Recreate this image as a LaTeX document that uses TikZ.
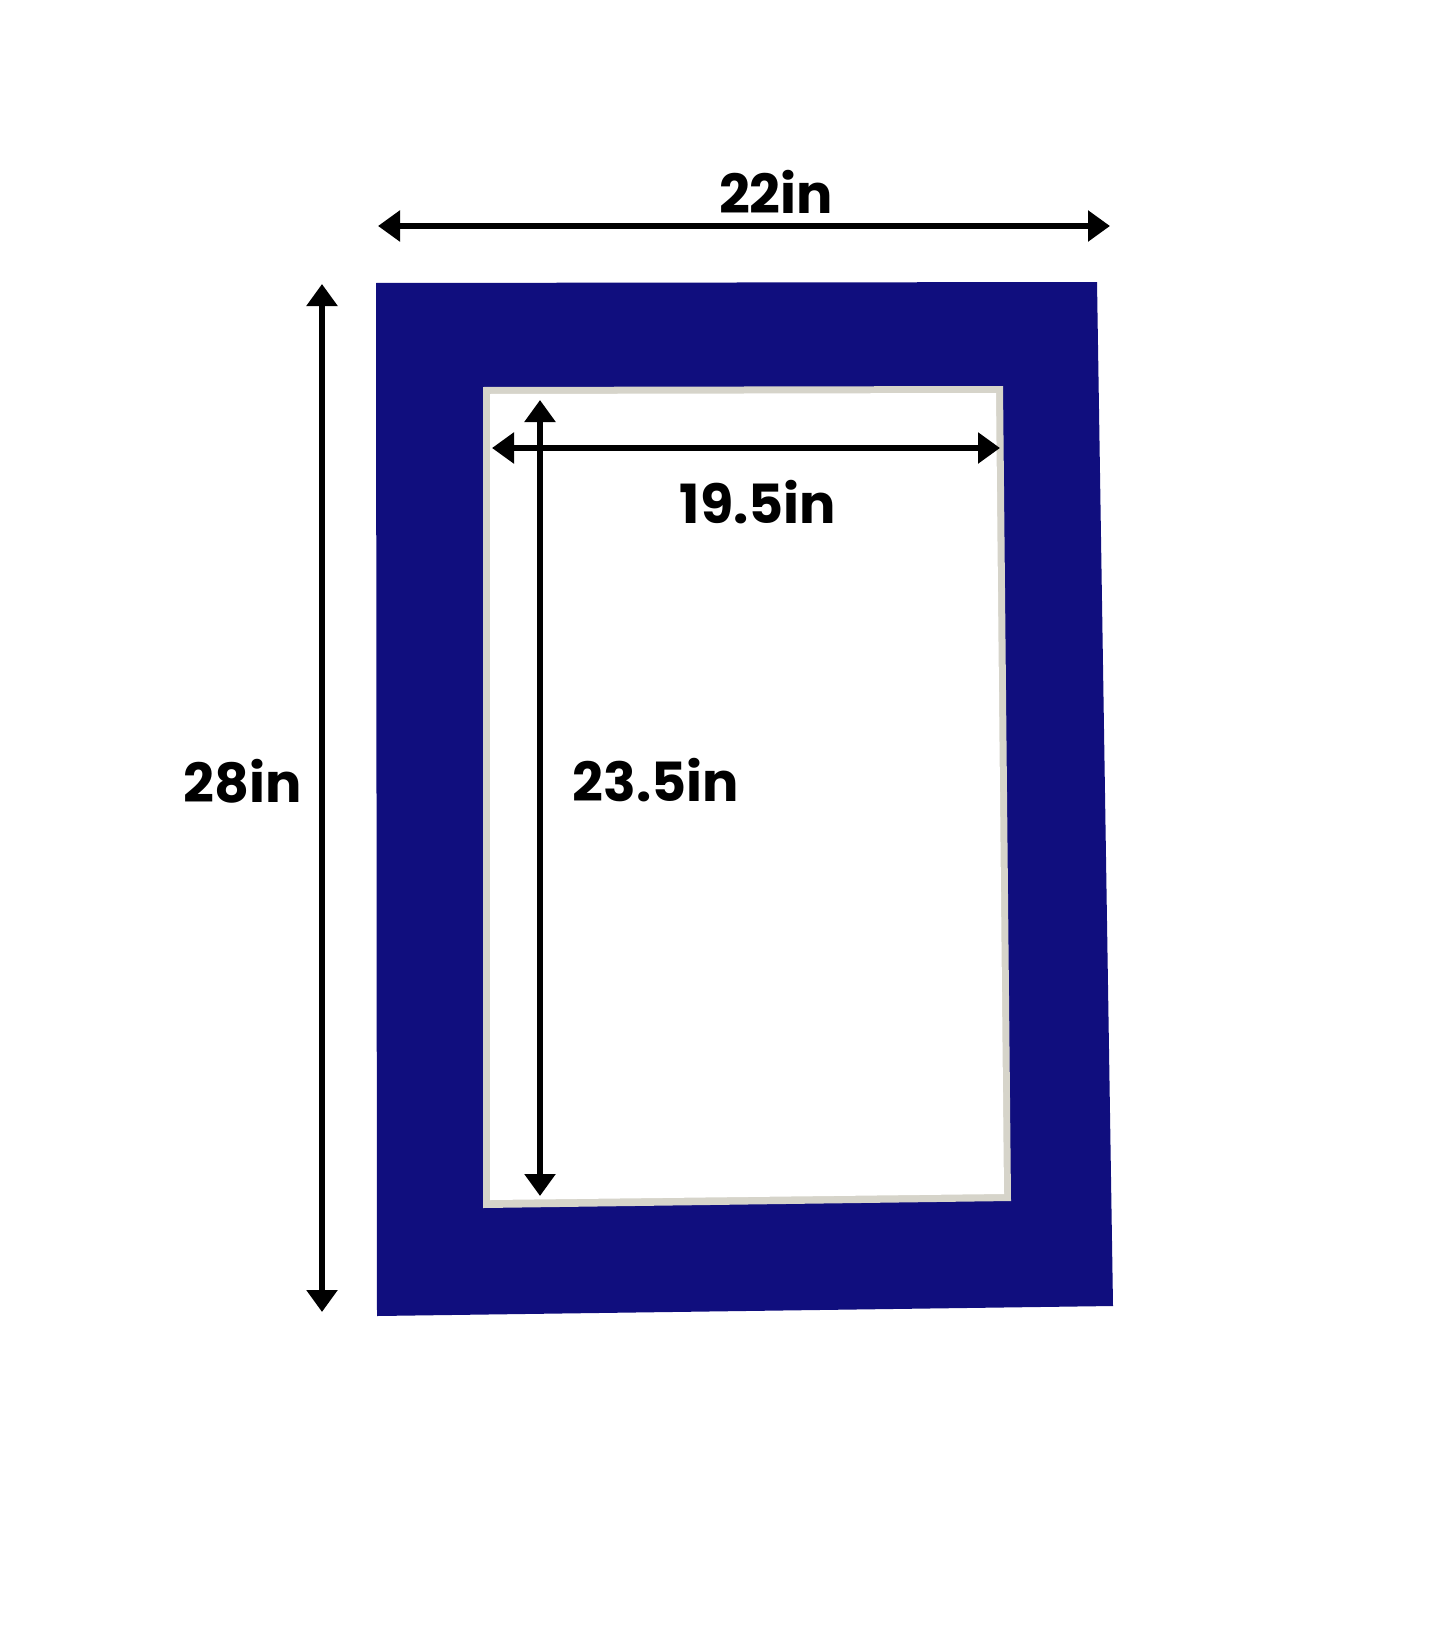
\documentclass[tikz,border=0pt]{standalone}
\usepackage{fontspec}
\setmainfont{Poppins}
\usetikzlibrary{arrows.meta}
\definecolor{matblue}{RGB}{16,14,126}
\definecolor{bevel}{RGB}{214,212,202}
\tikzset{
  dim/.style={line width=6pt, {Triangle[length=22pt,width=30pt]}-{Triangle[length=22pt,width=30pt]}},
  lbl/.style={font=\fontsize{54}{62}\selectfont\bfseries, inner sep=0pt}
}
\begin{document}
\begin{tikzpicture}[x=1pt,y=-1pt]
\useasboundingbox (0,0) rectangle (1445,1645);
\fill[white] (0,0) rectangle (1445,1645);
% mat
\fill[matblue] (376,283) -- (1097,282) -- (1113,1306) -- (377,1316) -- cycle;
% window bevel
\fill[bevel] (483,387) -- (1003,386) -- (1011,1201) -- (483,1208) -- cycle;
\fill[white] (490,394) -- (996,393) -- (1004,1194) -- (490,1200) -- cycle;
% coordinates
\coordinate (tl) at (378,226); \coordinate (tr) at (1110,226);
\coordinate (lt) at (322,284); \coordinate (lb) at (322,1312);
\coordinate (il) at (492,448); \coordinate (ir) at (1000,448);
\coordinate (it) at (540,400); \coordinate (ib) at (540,1196);
\draw[dim] (tl) -- (tr);
\draw[dim] (lt) -- (lb);
\draw[dim] (il) -- (ir);
\draw[dim] (it) -- (ib);
\node[lbl] (w) at (776,192) {22in};
\node[lbl] (h) at (243,781) {28in};
\node[lbl] (iw) at (758,502) {19.5in};
\node[lbl] (ih) at (656,780) {23.5in};
\end{tikzpicture}
\end{document}
